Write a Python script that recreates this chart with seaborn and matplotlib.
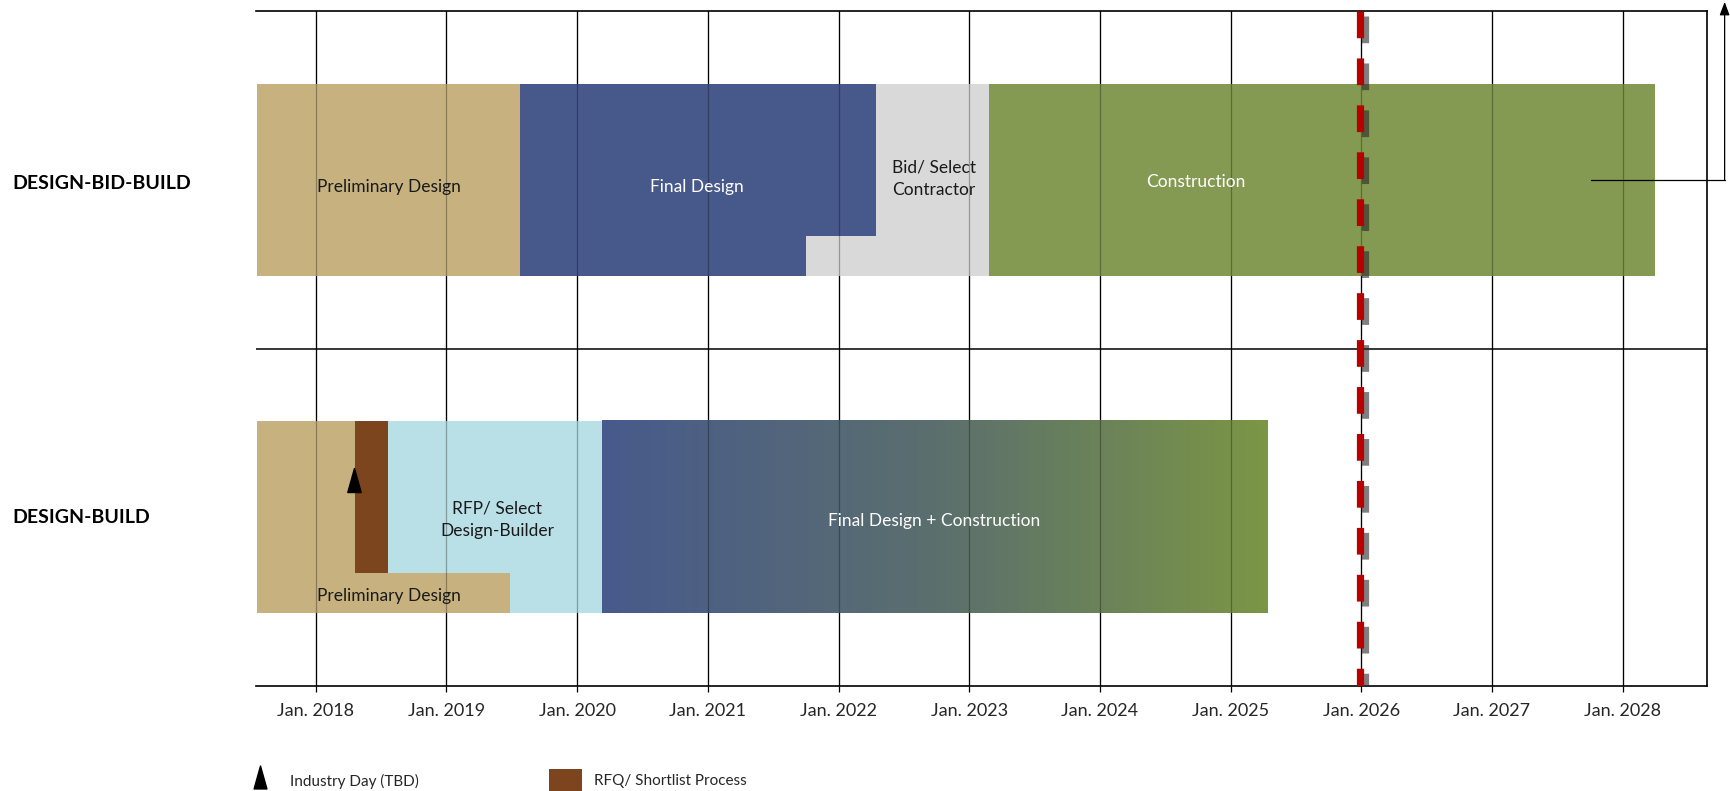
import numpy as np
import matplotlib.pyplot as plt
import matplotlib.transforms as mtransforms
import matplotlib.patheffects as pe
from matplotlib.colors import LinearSegmentedColormap
from matplotlib.path import Path
from matplotlib.patches import Rectangle
import seaborn as sns

sns.set_style("white")
plt.rcParams["font.family"] = ["Lato", "DejaVu Sans"]

# --- data ---
tick_years = [2018, 2019, 2020, 2021, 2022, 2023, 2024, 2025, 2026, 2027, 2028]
tick_labels = ["Jan. 2018", "Jan. 2019", "Jan. 2020", "Jan. 2021", "Jan. 2022", "Jan. 2023",
               "Jan. 2024", "Jan. 2025", "Jan. 2026", "Jan. 2027", "Jan. 2028"]

row_names = ["DESIGN-BID-BUILD", "DESIGN-BUILD"]
row_centers = [1.49, 0.50]

# solid phase blocks (start / end in decimal years, lower / upper edge within the row)
seg_phase = ["bid", "prelim", "final", "final", "construction",
             "rfp", "prelim", "prelim", "rfq"]
seg_start = [2021.75, 2017.55, 2019.56, 2019.56, 2023.15,
             2018.55, 2017.55, 2017.55, 2018.30]
seg_end = [2023.15, 2019.56, 2021.75, 2022.29, 2028.25,
           2020.19, 2018.30, 2019.49, 2018.55]
seg_lo = [1.215, 1.215, 1.215, 1.333, 1.215,
          0.215, 0.215, 0.215, 0.335]
seg_hi = [1.785, 1.785, 1.785, 1.785, 1.785,
          0.785, 0.785, 0.335, 0.785]

# design-build combined phase (drawn as a blue->green gradient)
db_start, db_end = 2020.19, 2025.285
db_lo, db_hi = 0.215, 0.785

phase_colors = {
    "prelim": "#C6B17F",
    "final": "#47598B",
    "bid": "#D9D9D9",
    "construction": "#849A52",
    "rfp": "#B9DFE7",
    "rfq": "#7D451D",
}

labels = ["Preliminary Design", "Final Design", "Bid/ Select\nContractor", "Construction",
          "RFP/ Select\nDesign-Builder", "Preliminary Design", "Final Design + Construction"]
label_x = [2018.56, 2020.92, 2022.73, 2024.73, 2019.39, 2018.56, 2022.73]
label_y = [1.478, 1.478, 1.503, 1.492, 0.493, 0.268, 0.490]
label_col = ["#1a1a1a", "white", "#1a1a1a", "white", "#1a1a1a", "#1a1a1a", "white"]

industry_day = 2018.29
industry_day_y = 0.61
today = 2025.99
arrow_from = 2027.76
arrow_x = 2028.78

# --- figure ---
fig = plt.figure(figsize=(17.31, 7.91), dpi=100)
ax = fig.add_axes([0.1479, 0.1327, 0.8380, 0.8534])

# year grid underneath
for yr in tick_years:
    ax.axvline(yr, color="black", lw=0.9, zorder=1)

for ph, s, e, lo, hi in zip(seg_phase, seg_start, seg_end, seg_lo, seg_hi):
    ax.barh((lo + hi) / 2, e - s, left=s, height=hi - lo,
            color=phase_colors[ph], linewidth=0, zorder=2)

grad = LinearSegmentedColormap.from_list("db", ["#475A8C", "#5B6F6E", "#7B9645"])
ax.imshow(np.linspace(0, 1, 256).reshape(1, -1), extent=[db_start, db_end, db_lo, db_hi],
          cmap=grad, aspect="auto", zorder=2, interpolation="bilinear")

# grid lines faintly visible through the bars
for yr in tick_years:
    ax.axvline(yr, color="black", lw=0.9, alpha=0.3, zorder=3)

for txt, x, y, c in zip(labels, label_x, label_y, label_col):
    ax.text(x, y, txt, color=c, fontsize=12.5, ha="center", va="center",
            linespacing=1.55, zorder=5)

# industry day marker
tri = Path([(-0.28, -0.5), (0.28, -0.5), (0.0, 0.5), (-0.28, -0.5)],
           [Path.MOVETO, Path.LINETO, Path.LINETO, Path.CLOSEPOLY])
ax.plot([industry_day], [industry_day_y], marker=tri, markersize=17.3,
        color="black", linestyle="none", zorder=6)

# row separator and frame
ax.axhline(1.0, color="black", lw=1.1, zorder=4)
ax.spines["left"].set_visible(False)
for side in ["top", "right", "bottom"]:
    ax.spines[side].set_color("black")
    ax.spines[side].set_linewidth(1.2)

# today marker: red dashes with a soft shadow
ax.plot([today, today], [2.0, 0.0], color="#B80000", lw=5.2,
        linestyle=(0, (3.7, 2.8)), dash_capstyle="butt", zorder=7,
        path_effects=[pe.SimpleLineShadow(offset=(3.6, -3.6), shadow_color="#2a2a2a", alpha=0.6),
                      pe.Normal()])

# continuation arrow off the right edge
ax.plot([arrow_from, arrow_x], [1.5, 1.5], color="black", lw=0.9, clip_on=False, zorder=6)
ax.annotate("", xy=(arrow_x, 2.027), xytext=(arrow_x, 1.5), xycoords="data",
            annotation_clip=False,
            arrowprops=dict(arrowstyle="-|>,head_length=0.8,head_width=0.3",
                            color="black", lw=0.9, shrinkA=0, shrinkB=0))

ax.set_xlim(2017.543, 2028.642)
ax.set_ylim(0, 2)
ax.set_xticks(tick_years)
ax.set_xticklabels(tick_labels, fontsize=13)
ax.tick_params(axis="x", direction="out", length=4.3, width=0.9, color="black", pad=8,
               bottom=True)
ax.set_yticks([])

# row titles at the left edge of the figure
trans = mtransforms.blended_transform_factory(fig.transFigure, ax.transData)
for name, yc in zip(row_names, row_centers):
    ax.text(0.0069, yc, name, transform=trans, fontsize=14, fontweight="bold",
            ha="left", va="center", color="black")

# legend along the bottom
fig.add_artist(plt.Line2D([0.1502], [0.0183], marker=tri, markersize=16.5,
                          color="black", linestyle="none", transform=fig.transFigure))
fig.text(0.1675, 0.0126, "Industry Day (TBD)", fontsize=11, va="center", ha="left")
fig.add_artist(Rectangle((0.3174, 0.0), 0.0191, 0.0278, transform=fig.transFigure,
                         facecolor=phase_colors["rfq"], edgecolor="none"))
fig.text(0.3432, 0.0126, "RFQ/ Shortlist Process", fontsize=11, va="center", ha="left")

fig.savefig("out.png", dpi=100)
